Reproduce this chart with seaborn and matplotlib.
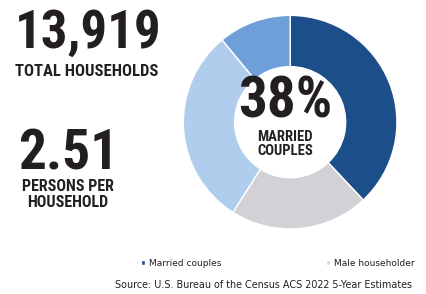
import matplotlib
matplotlib.use("Agg")
import matplotlib.pyplot as plt
import seaborn as sns

# household composition shares (percent), clockwise from 12 o'clock
segments = ["Married couples", "Male householder", "Female householder", "Other households"]
shares = [38, 21, 30, 11]
colors = ["#1c4f8a", "#d2d2d6", "#b0cdee", "#6f9fd8"]

total_households = "13,919"
persons_per_household = "2.51"
married_share = "38%"
source = "Source: U.S. Bureau of the Census ACS 2022 5-Year Estimates"

sns.set_theme(style="white")

ink = "#231f20"
bold = dict(family=["Roboto Condensed", "DejaVu Sans"], fontstretch="condensed",
            fontweight="bold", color=ink)

fig = plt.figure(figsize=(4.27, 2.94), dpi=100)
fig.patch.set_facecolor("white")

# donut
ax = fig.add_axes([0.424, 0.214, 0.511, 0.741])
wedges, _ = ax.pie(shares, colors=colors, startangle=90, counterclock=False,
                   radius=1.0, wedgeprops=dict(width=0.48, edgecolor="white", linewidth=1.0))
ax.set_xlim(-1.02, 1.02)
ax.set_ylim(-1.02, 1.02)
ax.set_aspect("equal")
ax.axis("off")

ax.text(-0.05, 0.04, married_share, ha="center", va="baseline", fontsize=41, **bold)
ax.text(-0.05, -0.175, "MARRIED", ha="center", va="baseline", fontsize=10.5, **bold)
ax.text(-0.05, -0.305, "COUPLES", ha="center", va="baseline", fontsize=10.5, **bold)

# left-side stats
fig.text(0.035, 0.837, total_households, ha="left", va="baseline", fontsize=38, **bold)
fig.text(0.035, 0.741, "TOTAL HOUSEHOLDS", ha="left", va="baseline", fontsize=12, **bold)
fig.text(0.159, 0.425, persons_per_household, ha="center", va="baseline", fontsize=40, **bold)
fig.text(0.159, 0.352, "PERSONS PER", ha="center", va="baseline", fontsize=11.5, **bold)
fig.text(0.159, 0.295, "HOUSEHOLD", ha="center", va="baseline", fontsize=11.5, **bold)

# legend (only first two entries visible in the original)
fig.legend(handles=wedges[:2], labels=segments[:2], loc="center left",
           bbox_to_anchor=(0.311, 1 - 263 / 294), ncol=2, frameon=False,
           fontsize=6.5, handlelength=0.45, handleheight=0.45, handletextpad=0.5,
           columnspacing=11.5, labelcolor=ink)

fig.text(0.618, 0.022, source, ha="center", va="baseline", fontsize=6.9, color=ink)

fig.savefig("out.png", dpi=100, facecolor="white")
